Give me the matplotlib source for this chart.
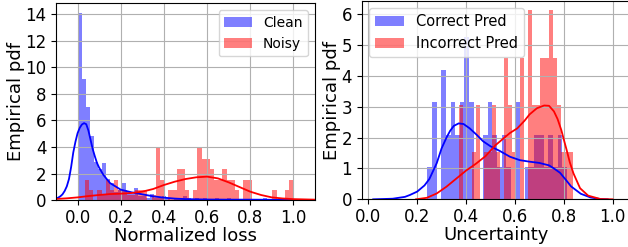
import numpy as np
import matplotlib
matplotlib.use('Agg')
import matplotlib.pyplot as plt

# ---- left panel: normalized loss, clean vs noisy ----
clean_start = 0.0
clean_width = 0.0187
clean_hist = [14.1, 9.15, 7.05, 4.8, 2.85, 2.35, 2.8, 1.6, 1.3, 0.6,
              0.75, 1.3, 0.6, 0.45, 0.9, 0.3, 0.3, 0.15, 0.45, 0.15,
              0.15, 0.3, 0.15, 0.0, 0.15, 0.15, 0.3, 0.15, 0.0, 0.15,
              0.0, 0.15, 0.0, 0.0, 0.15, 0.0, 0.0, 0.15, 0.0, 0.0,
              0.0, 0.0, 0.0, 0.0, 0.0, 0.0, 0.15, 0.0, 0.0, 0.0]

noisy_start = 0.034
noisy_width = 0.0193
noisy_hist = [1.56, 0.78, 0.0, 0.78, 0.39, 1.56, 0.78, 1.56, 0.78, 0.78,
              0.39, 0.39, 0.78, 0.78, 0.78, 0.0, 0.39, 3.9, 1.56, 0.0,
              0.78, 0.78, 2.34, 2.34, 0.78, 0.0, 0.78, 3.9, 3.12, 3.12,
              2.34, 1.56, 1.56, 2.34, 1.56, 1.56, 0.78, 0.0, 1.56, 1.56,
              0.0, 0.0, 0.0, 0.0, 0.0, 0.78, 0.0, 0.0, 0.78, 1.56]

# kde curves
clean_kde_x = [-0.1, -0.09, -0.08, -0.07, -0.06, -0.05, -0.04, -0.03, -0.02, -0.01,
               0.0, 0.01, 0.02, 0.03, 0.04, 0.05, 0.06, 0.07, 0.08, 0.09,
               0.1, 0.12, 0.15, 0.2, 0.25, 0.3, 0.35, 0.4, 0.45, 0.5,
               0.6, 0.7, 0.8, 0.9, 1.0]
clean_kde_y = [0.12, 0.2, 0.3, 0.45, 0.7, 1.05, 1.6, 2.5, 3.6, 4.4,
               5.05, 5.45, 5.7, 5.8, 5.72, 5.25, 4.55, 3.85, 3.3, 2.8,
               2.45, 1.9, 1.3, 0.8, 0.6, 0.45, 0.3, 0.2, 0.13, 0.09,
               0.06, 0.05, 0.05, 0.04, 0.02]

noisy_kde_x = [-0.1, -0.05, 0.0, 0.05, 0.1, 0.15, 0.2, 0.25, 0.3, 0.35,
               0.4, 0.45, 0.5, 0.55, 0.6, 0.65, 0.7, 0.75, 0.8, 0.85,
               0.9, 0.95, 1.0, 1.05, 1.1]
noisy_kde_y = [0.1, 0.15, 0.22, 0.32, 0.4, 0.47, 0.5, 0.55, 0.65, 0.85,
               1.15, 1.4, 1.6, 1.73, 1.78, 1.65, 1.35, 1.0, 0.65, 0.4,
               0.22, 0.14, 0.09, 0.07, 0.05]

# ---- right panel: uncertainty, correct vs incorrect ----
correct_start = 0.241
correct_width = 0.0191
correct_hist = [1.05, 3.15, 0.0, 4.2, 2.1, 3.15, 2.1, 3.15, 5.25, 3.15,
                0.0, 0.0, 2.1, 3.15, 2.1, 1.05, 2.1, 1.05, 0.0, 3.15,
                0.0, 1.05, 1.05, 2.1, 2.1, 1.05, 2.1, 1.05, 2.1, 1.05]

incorrect_start = 0.373
incorrect_width = 0.0166
incorrect_hist = [3.06, 0.0, 0.0, 1.53, 3.06, 0.0, 1.53, 1.53, 3.06, 1.53,
                  0.0, 4.59, 3.06, 1.53, 0.0, 4.59, 0.0, 6.12, 3.06, 3.06,
                  4.59, 4.59, 6.12, 4.59, 3.06, 1.53, 1.53, 1.53]

correct_kde_x = [0.02, 0.1, 0.15, 0.17, 0.2, 0.23, 0.25, 0.28, 0.3, 0.32,
                 0.335, 0.35, 0.37, 0.39, 0.415, 0.445, 0.47, 0.5, 0.54, 0.58,
                 0.62, 0.66, 0.7, 0.74, 0.76, 0.785, 0.81, 0.83, 0.87, 0.91,
                 0.95, 0.98]
correct_kde_y = [0.0, 0.02, 0.08, 0.14, 0.25, 0.45, 0.66, 1.17, 1.65, 2.0,
                 2.22, 2.38, 2.46, 2.44, 2.3, 2.08, 1.88, 1.72, 1.56, 1.38,
                 1.27, 1.22, 1.18, 1.1, 1.0, 0.86, 0.62, 0.42, 0.18, 0.06,
                 0.01, 0.0]

incorrect_kde_x = [0.195, 0.24, 0.28, 0.32, 0.36, 0.4, 0.44, 0.48, 0.52, 0.55,
                   0.58, 0.61, 0.64, 0.66, 0.69, 0.72, 0.74, 0.76, 0.775, 0.79,
                   0.8, 0.812, 0.825, 0.84, 0.867, 0.9, 0.95, 1.0]
incorrect_kde_y = [0.0, 0.05, 0.19, 0.41, 0.67, 0.93, 1.15, 1.4, 1.75, 1.95,
                   2.15, 2.3, 2.55, 2.75, 2.95, 3.04, 3.03, 2.85, 2.6, 2.25,
                   1.95, 1.6, 1.2, 0.84, 0.36, 0.12, 0.01, 0.0]

xticks = [0.0, 0.2, 0.4, 0.6, 0.8, 1.0]


def hist_bars(ax, start, width, heights, color, label):
    lefts = start + width * np.arange(len(heights))
    ax.bar(lefts, heights, width=width, align='edge', color=color,
           alpha=0.5, linewidth=0, label=label)


fig = plt.figure(figsize=(6.28, 2.47), dpi=100)

# left
ax1 = fig.add_axes([0.0892, 0.189, 0.4124, 0.7976])
hist_bars(ax1, clean_start, clean_width, clean_hist, 'b', 'Clean')
hist_bars(ax1, noisy_start, noisy_width, noisy_hist, 'r', 'Noisy')
ax1.plot(clean_kde_x, clean_kde_y, color='b', lw=1.3)
ax1.plot(noisy_kde_x, noisy_kde_y, color='r', lw=1.3)
ax1.set_xlim(-0.1, 1.1)
ax1.set_xticks(xticks)
ax1.set_yticks([0, 2, 4, 6, 8, 10, 12, 14])
ax1.grid(True)
ax1.tick_params(labelsize=12)
ax1.tick_params(axis='x', pad=2.5)
ax1.set_xlabel('Normalized loss', fontsize=13, labelpad=0)
ax1.set_ylabel('Empirical pdf', fontsize=13, labelpad=0)
ax1.legend(loc='upper right', fontsize=10)

# right
ax2 = fig.add_axes([0.576, 0.193, 0.427, 0.803])
hist_bars(ax2, correct_start, correct_width, correct_hist, 'b', 'Correct Pred')
hist_bars(ax2, incorrect_start, incorrect_width, incorrect_hist, 'r', 'Incorrect Pred')
ax2.plot(correct_kde_x, correct_kde_y, color='b', lw=1.3)
ax2.plot(incorrect_kde_x, incorrect_kde_y, color='r', lw=1.3)
ax2.set_xlim(-0.027, 1.071)
ax2.set_xticks(xticks)
ax2.set_yticks([0, 1, 2, 3, 4, 5, 6])
ax2.grid(True)
ax2.tick_params(labelsize=12)
ax2.tick_params(axis='x', pad=2.5)
ax2.set_xlabel('Uncertainty', fontsize=13, labelpad=0)
ax2.set_ylabel('Empirical pdf', fontsize=13, labelpad=0.5)
ax2.legend(loc='upper left', fontsize=10.5)

fig.savefig('out.png', dpi=100)
